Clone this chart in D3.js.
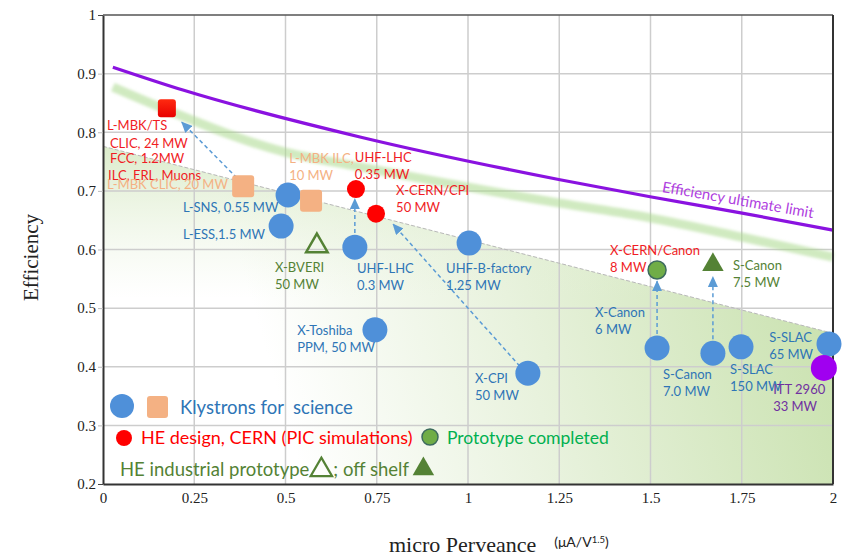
<!DOCTYPE html>
<html><head><meta charset="utf-8">
<script src="https://cdn.jsdelivr.net/npm/d3@7"></script>
<style>
html,body{margin:0;padding:0;background:#fff;}
svg{display:block;}
</style></head>
<body>
<svg id="chart" width="856" height="556"></svg>
<script>
// ---------- DATA ----------
const xTicks = [0, 0.25, 0.5, 0.75, 1, 1.25, 1.5, 1.75, 2];
const yTicks = [0.2, 0.3, 0.4, 0.5, 0.6, 0.7, 0.8, 0.9, 1];

// Klystrons for science (blue circles)
const scienceKly = [
  {name: "L-SNS", x: 0.507, y: 0.693},
  {name: "L-ESS", x: 0.488, y: 0.640},
  {name: "UHF-LHC", x: 0.690, y: 0.604},
  {name: "UHF-B-factory", x: 1.003, y: 0.611},
  {name: "X-Toshiba", x: 0.745, y: 0.463},
  {name: "X-CPI", x: 1.164, y: 0.389},
  {name: "X-Canon", x: 1.518, y: 0.432},
  {name: "S-Canon", x: 1.671, y: 0.423},
  {name: "S-SLAC 150", x: 1.748, y: 0.434},
  {name: "S-SLAC 65", x: 1.989, y: 0.439}
];
// MBK for science (orange squares)
const scienceMBK = [
  {name: "L-MBK CLIC", x: 0.384, y: 0.708},
  {name: "L-MBK ILC", x: 0.570, y: 0.683}
];
// HE design CERN (red)
const heDesignSquare = [{name: "L-MBK/TS", x: 0.175, y: 0.841}];
const heDesign = [
  {name: "UHF-LHC 0.35", x: 0.693, y: 0.703},
  {name: "X-CERN/CPI", x: 0.748, y: 0.661}
];
// prototype completed (green circle)
const protoCompleted = [{name: "X-CERN/Canon", x: 1.518, y: 0.565}];
// HE industrial prototype (open triangle) / off shelf (filled triangle)
const industrialProto = [{name: "X-BVERI", x: 0.586, y: 0.606}];
const offShelf = [{name: "S-Canon 7.5", x: 1.671, y: 0.574}];
// other (purple)
const otherKly = [{name: "ITT 2960", x: 1.975, y: 0.398}];

// Efficiency ultimate limit curve
const limitX = [0.027, 0.219, 0.704, 1.252, 1.499, 1.751, 2.0];
const limitY = [0.911, 0.872, 0.792, 0.719, 0.690, 0.662, 0.633];
// green band
const bandX = [0.027, 0.175, 0.499, 0.704, 1.252, 1.499, 1.751, 2.0];
const bandY = [0.877, 0.838, 0.766, 0.741, 0.679, 0.654, 0.621, 0.587];
// shaded region top boundary
const shadeX = [0, 2];
const shadeY = [0.776, 0.457];

// improvement arrows [x0,y0,x1,y1]
const arrows = [
  [0.367, 0.722, 0.216, 0.817],
  [0.690, 0.628, 0.690, 0.686],
  [1.142, 0.401, 0.795, 0.643],
  [1.518, 0.456, 1.518, 0.546],
  [1.671, 0.447, 1.671, 0.553]
];

// annotation texts: [lines, x, y, colorKey]
const labels = [
  [["L-MBK/TS"], 0.011, 0.812, "red"],
  [["CLIC, 24 MW"], 0.019, 0.782, "red"],
  [["FCC, 1.2MW"], 0.019, 0.756, "red"],
  [["ILC, ERL, Muons"], 0.014, 0.727, "red"],
  [["L-MBK CLIC, 20 MW"], 0.011, 0.712, "orange"],
  [["L-SNS, 0.55 MW"], 0.219, 0.672, "blue"],
  [["L-ESS,1.5 MW"], 0.219, 0.626, "blue"],
  [["L-MBK ILC,", "10 MW"], 0.510, 0.756, "orange"],
  [["UHF-LHC", "0.35 MW"], 0.690, 0.758, "red"],
  [["X-CERN/CPI", "50 MW"], 0.803, 0.701, "red"],
  [["X-BVERI", "50 MW"], 0.471, 0.570, "dgreen"],
  [["UHF-LHC", "0.3 MW"], 0.696, 0.568, "blue"],
  [["UHF-B-factory", "1.25 MW"], 0.940, 0.568, "blue"],
  [["X-Toshiba", "PPM, 50 MW"], 0.532, 0.463, "blue"],
  [["X-CPI", "50 MW"], 1.019, 0.381, "blue"],
  [["X-CERN/Canon", "8 MW"], 1.389, 0.599, "red"],
  [["S-Canon", "7.5 MW"], 1.726, 0.574, "dgreen"],
  [["X-Canon", "6 MW"], 1.348, 0.493, "blue"],
  [["S-Canon", "7.0 MW"], 1.534, 0.388, "blue"],
  [["S-SLAC", "150 MW"], 1.718, 0.396, "blue"],
  [["S-SLAC", "65 MW"], 1.825, 0.451, "blue"],
  [["ITT 2960", "33 MW"], 1.836, 0.362, "purple"]
];
const limitLabel = {text: "Efficiency ultimate limit", x: 1.74, y: 0.686};

// ---------- DRAW ----------
const colors = {
  blue: "#2e75b6", red: "#f01c24", orange: "#f4b183",
  dgreen: "#548235", green: "#00b050", purple: "#7030a0"
};
const svg = d3.select("#chart");
const x = d3.scaleLinear().domain([0, 2]).range([103, 833]);
const y = d3.scaleLinear().domain([0.2, 1]).range([484, 15]);

const defs = svg.append("defs");
const g1 = defs.append("linearGradient").attr("id", "shadeH")
  .attr("gradientUnits", "userSpaceOnUse")
  .attr("x1", x(2)).attr("y1", y(0.46)).attr("x2", x(0.55)).attr("y2", y(0.2));
g1.append("stop").attr("offset", 0).attr("stop-color", "#cae2b0");
g1.append("stop").attr("offset", 0.55).attr("stop-color", "#e8f2dd");
g1.append("stop").attr("offset", 1).attr("stop-color", "#ffffff");
const g2 = defs.append("linearGradient").attr("id", "shadeV")
  .attr("x1", 0).attr("y1", 0).attr("x2", 0).attr("y2", 1);
g2.append("stop").attr("offset", 0).attr("stop-color", "#d8eac6").attr("stop-opacity", 0.9);
g2.append("stop").attr("offset", 0.45).attr("stop-color", "#e8f2dd").attr("stop-opacity", 0);
const gr = defs.append("linearGradient").attr("id", "redsq")
  .attr("x1", 0).attr("y1", 0).attr("x2", 0).attr("y2", 1);
gr.append("stop").attr("offset", 0).attr("stop-color", "#ff2a10");
gr.append("stop").attr("offset", 1).attr("stop-color", "#e80000");
defs.append("filter").attr("id", "blur").append("feGaussianBlur").attr("stdDeviation", 1.6);
defs.append("marker").attr("id", "arrow")
  .attr("markerUnits", "userSpaceOnUse")
  .attr("markerWidth", 11).attr("markerHeight", 10)
  .attr("refX", 10).attr("refY", 5).attr("orient", "auto")
  .append("path").attr("d", "M0,0 L11,5 L0,10 Z").attr("fill", "#5b9bd5");

// shaded region
const shadePoly = [[shadeX[0], shadeY[0]], [shadeX[1], shadeY[1]], [shadeX[1], 0.2], [shadeX[0], 0.2]];
const polyLine = d3.line().x(d => x(d[0])).y(d => y(d[1]));
svg.append("path").attr("d", polyLine(shadePoly) + "Z").attr("fill", "url(#shadeH)");
svg.append("path").attr("d", polyLine(shadePoly) + "Z").attr("fill", "url(#shadeV)");

// gridlines
svg.append("g").selectAll("line").data(xTicks.slice(1, -1)).join("line")
  .attr("x1", d => x(d)).attr("x2", d => x(d)).attr("y1", y(1)).attr("y2", y(0.2))
  .attr("stroke", "#cdcdcd").attr("stroke-width", 1.5);
svg.append("g").selectAll("line").data(yTicks.slice(1, -1)).join("line")
  .attr("x1", x(0)).attr("x2", x(2)).attr("y1", d => y(d)).attr("y2", d => y(d))
  .attr("stroke", "#cdcdcd").attr("stroke-width", 1.5);

// shaded boundary line
svg.append("line").attr("x1", x(shadeX[0])).attr("y1", y(shadeY[0]))
  .attr("x2", x(shadeX[1])).attr("y2", y(shadeY[1]))
  .attr("stroke", "#b8b8b8").attr("stroke-width", 1).attr("stroke-dasharray", "4,2");

// green band
const bandLine = d3.line().x((d, i) => x(bandX[i])).y((d, i) => y(bandY[i])).curve(d3.curveMonotoneX);
svg.append("path").attr("d", bandLine(bandX)).attr("fill", "none")
  .attr("stroke", "#a9d98c").attr("stroke-opacity", 0.55).attr("stroke-width", 9)
  .attr("filter", "url(#blur)");

// limit curve
const limLine = d3.line().x((d, i) => x(limitX[i])).y((d, i) => y(limitY[i])).curve(d3.curveMonotoneX);
svg.append("path").attr("d", limLine(limitX)).attr("fill", "none")
  .attr("stroke", "#8a12e0").attr("stroke-width", 3.2);
svg.append("text").attr("transform", `translate(${x(limitLabel.x)},${y(limitLabel.y)}) rotate(9.8)`)
  .attr("text-anchor", "middle").attr("dominant-baseline", "central")
  .attr("font-family", "Lato, 'Open Sans', sans-serif").attr("font-size", 15)
  .attr("fill", "#b03fe0").text(limitLabel.text);

// axes
const fmt = d => String(+d.toFixed(2));
const yAxis = svg.append("g").attr("transform", `translate(${x(0)},0)`)
  .call(d3.axisLeft(y).tickValues(yTicks).tickFormat(fmt).tickSize(5).tickSizeOuter(0).tickPadding(2));
const xAxis = svg.append("g").attr("transform", `translate(0,${y(0.2)})`)
  .call(d3.axisBottom(x).tickValues(xTicks).tickFormat(fmt).tickSize(0).tickSizeOuter(0).tickPadding(8));
[yAxis, xAxis].forEach(a => {
  a.selectAll("text").attr("font-family", "'Liberation Serif', serif").attr("font-size", 15).attr("fill", "#222");
  a.select(".domain").attr("stroke", "#333").attr("stroke-width", 2);
  a.selectAll(".tick line").attr("stroke", "#444");
});
yAxis.selectAll(".tick").filter(d => d > 0.2 && d < 1).select("line").attr("stroke", "#bbb");
// top & right border
svg.append("line").attr("x1", x(0)).attr("x2", x(2)).attr("y1", y(1)).attr("y2", y(1))
  .attr("stroke", "#555").attr("stroke-width", 1.5);
svg.append("line").attr("x1", x(2)).attr("x2", x(2)).attr("y1", y(1)).attr("y2", y(0.2))
  .attr("stroke", "#333").attr("stroke-width", 2);

// axis titles
svg.append("text").attr("transform", `translate(38,${(y(0.2) + y(1)) / 2 + 8}) rotate(-90)`)
  .attr("text-anchor", "middle").attr("font-family", "'Liberation Serif', serif")
  .attr("font-size", 21).attr("fill", "#222").text("Efficiency");
const xt = svg.append("text").attr("x", 389).attr("y", 552)
  .attr("font-family", "'Liberation Serif', serif").attr("font-size", 22).attr("fill", "#222");
xt.append("tspan").text("micro Perveance");
xt.append("tspan").attr("dx", 18).attr("dy", -5).attr("font-family", "Lato, 'Open Sans', sans-serif")
  .attr("font-size", 14).text("(μA/V");
xt.append("tspan").attr("dy", -4).attr("font-family", "Lato, sans-serif").attr("font-size", 9.5).text("1.5");
xt.append("tspan").attr("dy", 4).attr("font-family", "Lato, sans-serif").attr("font-size", 14).text(")");

// arrows
svg.append("g").selectAll("line").data(arrows).join("line")
  .attr("x1", d => x(d[0])).attr("y1", d => y(d[1])).attr("x2", d => x(d[2])).attr("y2", d => y(d[3]))
  .attr("stroke", "#5b9bd5").attr("stroke-width", 1.5).attr("stroke-dasharray", "4,3")
  .attr("marker-end", "url(#arrow)");

// markers
svg.append("g").selectAll("circle").data(scienceKly).join("circle")
  .attr("cx", d => x(d.x)).attr("cy", d => y(d.y)).attr("r", 12.5).attr("fill", "#4f90d9");
svg.append("g").selectAll("rect").data(scienceMBK).join("rect")
  .attr("x", d => x(d.x) - 11).attr("y", d => y(d.y) - 11).attr("width", 22).attr("height", 22)
  .attr("rx", 3).attr("fill", "#f4b183");
svg.append("g").selectAll("rect").data(heDesignSquare).join("rect")
  .attr("x", d => x(d.x) - 9).attr("y", d => y(d.y) - 9).attr("width", 18).attr("height", 18)
  .attr("rx", 3).attr("fill", "url(#redsq)");
svg.append("g").selectAll("circle").data(heDesign).join("circle")
  .attr("cx", d => x(d.x)).attr("cy", d => y(d.y)).attr("r", 9).attr("fill", "#ff0000");
svg.append("g").selectAll("circle").data(protoCompleted).join("circle")
  .attr("cx", d => x(d.x)).attr("cy", d => y(d.y)).attr("r", 9).attr("fill", "#70ad47")
  .attr("stroke", "#3d6b5e").attr("stroke-width", 1.5);
const tri = d3.symbol().type(d3.symbolTriangle).size(200);
svg.append("g").selectAll("path").data(industrialProto).join("path")
  .attr("transform", d => `translate(${x(d.x)},${y(d.y)})`).attr("d", tri)
  .attr("fill", "none").attr("stroke", "#548235").attr("stroke-width", 2.5);
svg.append("g").selectAll("path").data(offShelf).join("path")
  .attr("transform", d => `translate(${x(d.x)},${y(d.y)})`).attr("d", tri).attr("fill", "#548235");
svg.append("g").selectAll("circle").data(otherKly).join("circle")
  .attr("cx", d => x(d.x)).attr("cy", d => y(d.y)).attr("r", 13).attr("fill", "#a000f0");

// labels
const lab = svg.append("g").attr("font-family", "Lato, 'Open Sans', sans-serif").attr("font-size", 13);
labels.forEach(([lines, lx, ly, c]) => {
  const t = lab.append("text").attr("x", x(lx)).attr("y", y(ly)).attr("fill", colors[c])
    .attr("dominant-baseline", "central");
  lines.forEach((s, i) => t.append("tspan").attr("x", x(lx)).attr("dy", i === 0 ? 0 : 17).text(s));
});

// legend
const lg = svg.append("g").attr("font-family", "Lato, 'Open Sans', sans-serif");
lg.append("circle").attr("cx", 122).attr("cy", 406).attr("r", 12).attr("fill", "#4f90d9");
lg.append("rect").attr("x", 147).attr("y", 396).attr("width", 21).attr("height", 22).attr("rx", 3).attr("fill", "#f4b183");
lg.append("text").attr("x", 180).attr("y", 407).attr("dominant-baseline", "central")
  .attr("xml:space", "preserve").style("white-space", "pre")
  .attr("font-size", 18.5).attr("fill", colors.blue).text("Klystrons for  science");
lg.append("circle").attr("cx", 124).attr("cy", 438).attr("r", 8).attr("fill", "#ff0000");
lg.append("text").attr("x", 141).attr("y", 437).attr("dominant-baseline", "central")
  .attr("font-size", 18).attr("fill", "#ff0000").text("HE design, CERN (PIC simulations)");
lg.append("circle").attr("cx", 430).attr("cy", 437).attr("r", 8).attr("fill", "#70ad47")
  .attr("stroke", "#3d6b5e").attr("stroke-width", 1.5);
lg.append("text").attr("x", 447).attr("y", 437).attr("dominant-baseline", "central")
  .attr("font-size", 17.5).attr("fill", colors.green).text("Prototype completed");
const l3 = lg.append("text").attr("x", 120).attr("y", 469).attr("dominant-baseline", "central")
  .attr("font-size", 18.5).attr("fill", colors.dgreen);
l3.append("tspan").text("HE industrial prototype");
l3.append("tspan").attr("dx", 24).text("; off shelf");
const l3box = l3.node().getBBox();
const tsp = l3.selectAll("tspan").nodes();
const endFirst = tsp[0].getComputedTextLength() + 120;
lg.append("path").attr("transform", `translate(${endFirst + 12},${470})`).attr("d", tri)
  .attr("fill", "none").attr("stroke", "#548235").attr("stroke-width", 2.2);
lg.append("path").attr("transform", `translate(${l3box.x + l3box.width + 14},${469})`).attr("d", tri)
  .attr("fill", "#548235");
</script>
</body></html>
